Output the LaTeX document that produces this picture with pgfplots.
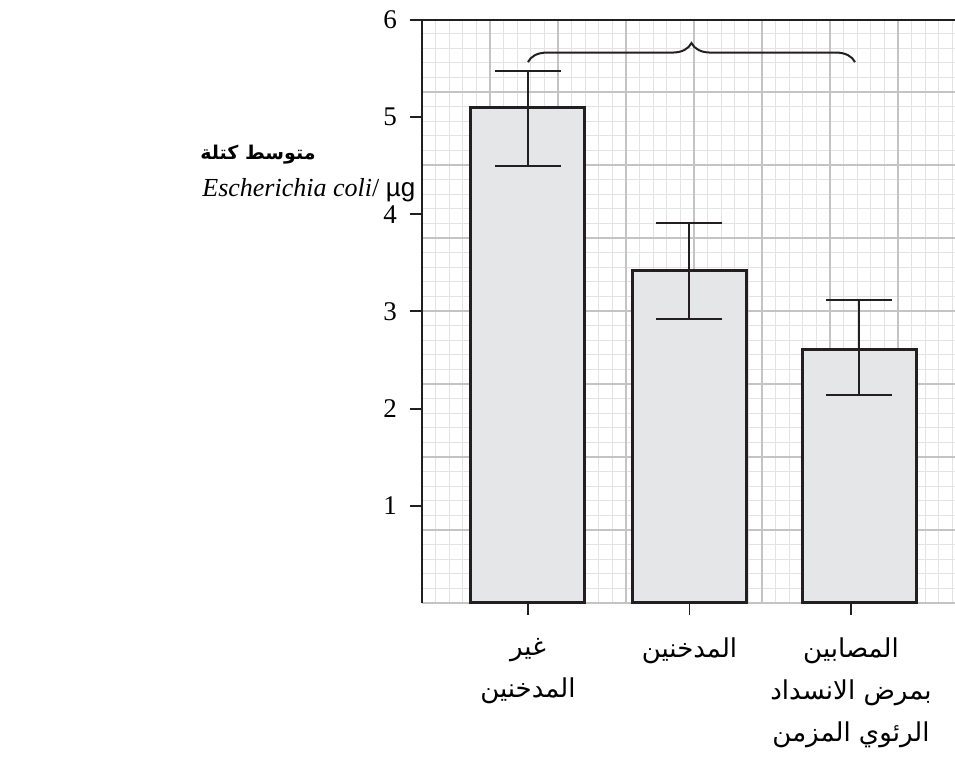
\documentclass[border=0pt]{standalone}
\usepackage{fontspec}
\setmainfont{Liberation Serif}
\newfontfamily\arabicfont[Script=Arabic]{DejaVu Sans}
\newfontfamily\lsans{Liberation Sans}
\usepackage{pgfplots}
\pgfplotsset{compat=1.18}
\usetikzlibrary{decorations.pathreplacing}
\TeXXeTstate=1
\definecolor{barfill}{HTML}{E5E6E8}
\definecolor{barline}{HTML}{231F20}
\definecolor{gridminor}{HTML}{E3E3E3}
\definecolor{gridmajor}{HTML}{C4C4C4}
\begin{document}
\begin{tikzpicture}
\useasboundingbox (-211pt,-80pt) rectangle (266.5pt,301.5pt);
\draw[gridminor, line width=0.6pt, xstep=6.8pt, ystep=7.3pt] (0,0) grid (266.5pt,291.5pt);
\draw[gridmajor, line width=1.3pt, xstep=34pt, ystep=36.5pt] (0,0) grid (266.5pt,291.5pt);
\begin{axis}[
  at={(0,0)}, anchor=south west,
  scale only axis, width=266.5pt, height=291.5pt,
  xmin=-0.656, xmax=2.644, ymin=0, ymax=6,
  ybar, bar width=57pt,
  axis line style={draw=none},
  clip=false,
  xtick={0,1,2},
  xticklabels={{\beginR غير\endR\\\beginR المدخنين\endR},{\beginR المدخنين\endR},{\beginR المصابين\endR\\\beginR بمرض الانسداد\endR\\\beginR الرئوي المزمن\endR}},
  xtick pos=bottom, ytick pos=left,
  tick align=outside,
  major tick length=6pt,
  ytick={1,2,3,4,5,6},
  ytick style={draw=barline, line width=1pt},
  xtick style={draw=barline, line width=0.6pt},
  yticklabel style={font=\fontsize{13.5}{15}\selectfont, xshift=-3pt, /pgf/number format/assume math mode=true},
  xticklabel style={align=center, font=\arabicfont\fontsize{13}{21}\selectfont, yshift=-8pt},
]
\addplot[fill=barfill, draw=barline, line width=1.5pt,
  error bars/.cd, y dir=both, y explicit,
  error bar style={line width=1pt, draw=barline},
  error mark options={rotate=90, mark size=16.5pt, line width=1pt, draw=barline}]
  table[x=x, y=y, y error plus=ep, y error minus=em] {
x y ep em
0 5.10 0.38 0.60
1 3.42 0.49 0.50
2.05 2.61 0.51 0.47
};
\draw[barline, line width=1pt] (rel axis cs:0,0) -- (rel axis cs:0,1) -- (rel axis cs:1,1);
\draw[barline, line width=1pt, decorate, decoration={brace, amplitude=9.5pt}] (axis cs:0,5.567) -- (axis cs:2.025,5.567);
\end{axis}
\node[anchor=west, inner sep=0pt, font=\arabicfont\bfseries\fontsize{9.5}{12}\selectfont] at (-111pt,224pt) {\beginR متوسط كتلة\endR};
\node[anchor=west, inner sep=0pt, font=\fontsize{13}{15}\selectfont] at (-110pt,206.5pt) {\textit{Escherichia coli}/ {\lsans µg}};
\end{tikzpicture}
\end{document}
